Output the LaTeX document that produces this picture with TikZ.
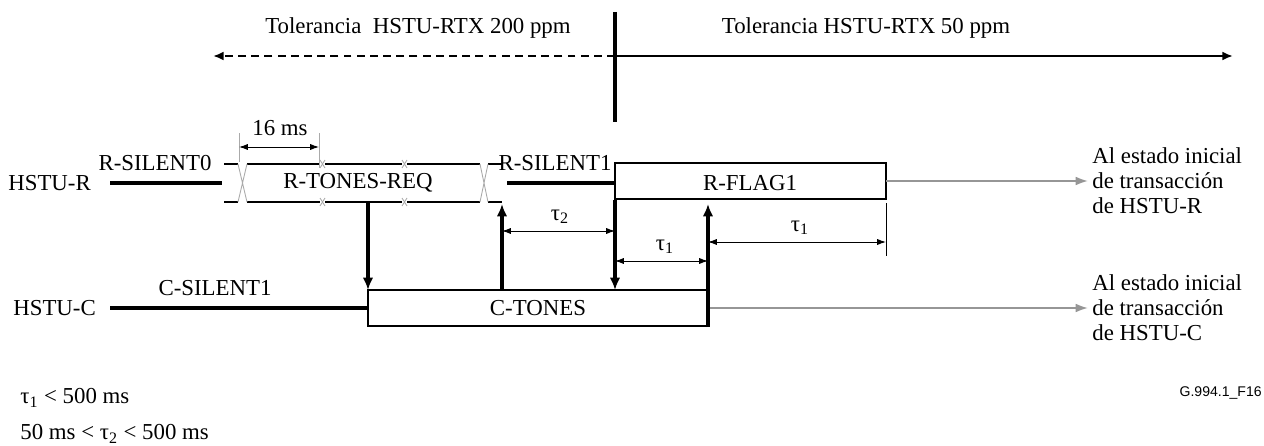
\documentclass[tikz,border=0pt]{standalone}
\usepackage{fontspec}
\setmainfont{Liberation Serif}
\newfontfamily\figsans{Liberation Sans}
\usetikzlibrary{arrows.meta}
\definecolor{exitgray}{RGB}{150,150,150}
\definecolor{crossgray}{RGB}{170,170,170}

\begin{document}
\begin{tikzpicture}[x=0.02cm,y=-0.02cm,
  lbl/.style={font=\fontsize{13}{14.2}\selectfont,inner sep=0pt},
  sig/.style={line width=2pt},
  env/.style={line width=1.5pt},
  frame/.style={line width=1.2pt},
  dim/.style={line width=0.55pt,{Latex[length=5pt,width=3.5pt]}-{Latex[length=5pt,width=3.5pt]}},
  ev/.style={line width=2pt,-{Latex[length=7pt,width=6pt]}},
  exit/.style={exitgray,line width=1.1pt,-{Latex[length=7pt,width=5pt]}}]
  \useasboundingbox (0,0) rectangle (1264,446);
  % tolerance split
  \coordinate (S1) at (615,12);
  \coordinate (S2) at (615,122);
  \coordinate (T0) at (615,56);
  \coordinate (TL) at (213,56);
  \coordinate (TR) at (1233,56);
  \draw[line width=1.9pt] (S1) -- (S2);
  \draw[line width=1.4pt,dash pattern=on 4.5pt off 3pt,-{Latex[length=6pt,width=5pt]}] (T0) -- (TL);
  \draw[line width=1.7pt,-{Latex[length=6pt,width=5pt]}] (T0) -- (TR);
  \node[lbl] (tol200) at (418,28) {Tolerancia\ \ HSTU-RTX 200 ppm};
  \node[lbl] (tol50) at (866,28) {Tolerancia HSTU-RTX 50 ppm};
  % HSTU-R
  \node[lbl,anchor=west] (hstur) at (8,183) {HSTU-R};
  \node[lbl] (rsil0) at (155,163) {R-SILENT0};
  \coordinate (R0) at (110,183);
  \coordinate (R1) at (222,183);
  \draw[sig] (R0) -- (R1);
  \foreach \xa/\xb in {224/238,247/320,325/402,407/480,488/502}{
    \draw[env] (\xa,164) -- (\xb,164);
    \draw[env] (\xa,202) -- (\xb,202);
  }
  \foreach \xa/\xb in {238/247,480/488}{
    \draw[crossgray,line width=0.5pt] (\xa,164) -- (\xb,202) (\xb,164) -- (\xa,202);
  }
  \foreach \xa in {320,402}{
    \draw[crossgray,line width=0.5pt] (\xa,160) -- (\xa+5,168) (\xa+5,160) -- (\xa,168);
    \draw[crossgray,line width=0.5pt] (\xa,198) -- (\xa+5,206) (\xa+5,198) -- (\xa,206);
  }
  \node[lbl] (rtreq) at (358,183) {R-TONES-REQ};
  % 16 ms
  \coordinate (M1) at (239,133);
  \coordinate (M2) at (319,133);
  \draw[crossgray,line width=0.5pt] (M1) -- (239,162);
  \draw[crossgray,line width=0.5pt] (M2) -- (319,168);
  \coordinate (M3) at (239,147);
  \coordinate (M4) at (319,147);
  \draw[dim] (M3) -- (M4);
  \node[lbl] (ms16) at (280,128) {16 ms};
  \node[lbl] (rsil1) at (555,163) {R-SILENT1};
  \coordinate (R2) at (507,183);
  \coordinate (R3) at (615,183);
  \draw[sig] (R2) -- (R3);
  \draw[frame] (615,163) rectangle (886,199);
  \node[lbl] (rflag) at (750,183) {R-FLAG1};
  \coordinate (RX) at (886,181);
  \coordinate (RE) at (1088,181);
  \draw[exit] (RX) -- (RE);
  \node[lbl,anchor=west,align=left] (rnext) at (1092,181) {Al estado inicial\\de transacción\\de HSTU-R};
  % HSTU-C
  \node[lbl,anchor=west] (hstuc) at (13,308) {HSTU-C};
  \node[lbl] (csil1) at (215,288) {C-SILENT1};
  \coordinate (C0) at (110,308);
  \coordinate (C1) at (368,308);
  \draw[sig] (C0) -- (C1);
  \draw[frame] (368,290) rectangle (708,326);
  \node[lbl] (ctones) at (538,308) {C-TONES};
  \coordinate (CX) at (708,308);
  \coordinate (CE) at (1088,308);
  \draw[exit] (CX) -- (CE);
  \node[lbl,anchor=west,align=left] (cnext) at (1092,308) {Al estado inicial\\de transacción\\de HSTU-C};
  % events
  \draw[ev] (368,202) -- (368,290);
  \draw[ev] (502,290) -- (502,204);
  \draw[ev] (615,200) -- (615,290);
  \draw[ev] (708,327) -- (708,204);
  % timings
  \draw[dim] (502,231) -- (615,231);
  \node[lbl] (tau2) at (560,217) {τ\textsubscript{2}};
  \draw[dim] (615,261) -- (708,261);
  \node[lbl] (tau1a) at (665,247) {τ\textsubscript{1}};
  \draw[line width=0.55pt] (886,203) -- (886,256);
  \draw[dim] (708,242) -- (886,242);
  \node[lbl] (tau1b) at (800,228) {τ\textsubscript{1}};
  % notes
  \node[lbl,anchor=west] (note1) at (20,398) {τ\textsubscript{1} < 500 ms};
  \node[lbl,anchor=west] (note2) at (20,434) {50 ms < τ\textsubscript{2} < 500 ms};
  \node[font=\figsans\fontsize{8}{9}\selectfont,inner sep=0pt,anchor=east] (figid) at (1262,393) {G.994.1\_F16};
\end{tikzpicture}
\end{document}
